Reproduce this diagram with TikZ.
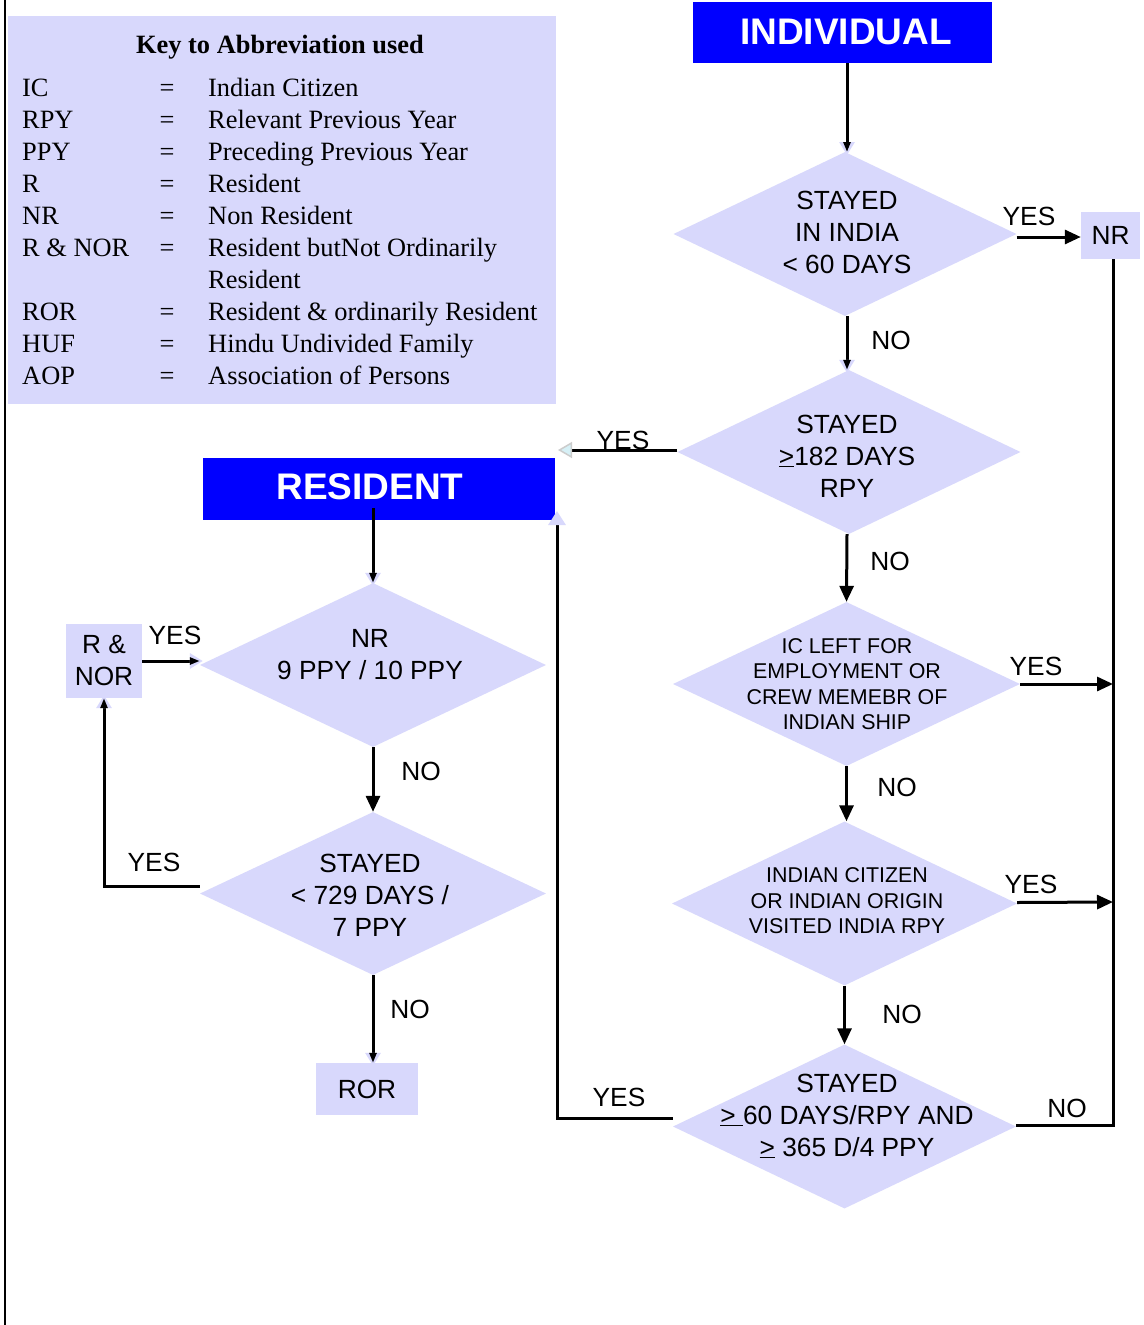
\documentclass[tikz,border=0pt]{standalone}
\usepackage{fontspec}
\setmainfont{Liberation Serif}
\setsansfont{Liberation Sans}
\usetikzlibrary{shapes.geometric,arrows.meta}
\definecolor{lav}{RGB}{216,216,252}
\definecolor{bluebox}{RGB}{0,0,255}
\definecolor{tipcyan}{RGB}{214,240,246}
\begin{document}
\begin{tikzpicture}[x=1pt,y=-1pt,
  dia/.style={diamond,fill=lav,draw=none,inner sep=0pt,minimum width=343pt,minimum height=164pt},
  dtext/.style={font=\sffamily\fontsize{26.3}{32}\selectfont,align=center,inner sep=0pt},
  stext/.style={font=\sffamily\fontsize{21.4}{25.5}\selectfont,align=center,inner sep=0pt},
  lbl/.style={font=\sffamily\fontsize{26.3}{30}\selectfont,inner sep=0pt},
  keyt/.style={font=\fontsize{26.4}{30}\selectfont,inner sep=0pt,anchor=base west},
  keyeq/.style={font=\fontsize{26.4}{30}\selectfont,inner sep=0pt,anchor=base},
  lavbox/.style={fill=lav,draw=none,inner sep=0pt,font=\sffamily\fontsize{26.3}{32}\selectfont,align=center},
  bluehead/.style={fill=bluebox,draw=none,inner sep=0pt,text=white,font=\sffamily\bfseries\fontsize{37}{40}\selectfont},
  conn/.style={line width=3pt},
  bigtip/.style={-{Triangle[length=16pt,width=14pt]}},
  smalltip/.style={-{Triangle[lav,length=13pt,width=15pt,sep=-13pt] Triangle[black,length=10pt,width=7pt]}},
]
\useasboundingbox (0,0) rectangle (1143,1325);
\fill[white] (0,0) rectangle (1143,1325);
\draw[line width=2pt] (5,0) -- (5,1325);

% key box
\node[fill=lav,inner sep=0pt,minimum width=548pt,minimum height=388pt] (key) at (282,210) {};
\node[font=\bfseries\fontsize{26.4}{30}\selectfont,inner sep=0pt,anchor=base] (ktitle) at (280,53) {Key to Abbreviation used};
\foreach \ab/\de/\yy [count=\i] in {IC/Indian Citizen/96,RPY/Relevant Previous Year/128,PPY/Preceding Previous Year/160,R/Resident/192,NR/Non Resident/224,R \& NOR/Resident butNot Ordinarily/256,ROR/Resident \& ordinarily Resident/320,HUF/Hindu Undivided Family/352,AOP/Association of Persons/384}{
  \node[keyt] (ka\i) at (22,\yy) {\ab};
  \node[keyeq] (ke\i) at (167,\yy) {=};
  \node[keyt] (kd\i) at (208,\yy) {\de};
}
\node[keyt] (kd0) at (208,288) {Resident};

% heads
\node[bluehead,minimum width=299pt,minimum height=61pt] (indiv) at (842.5,32.5) {};
\node[bluehead,inner sep=0pt] (indivt) at (846,32) {INDIVIDUAL};
\node[bluehead,minimum width=352pt,minimum height=62pt] (res) at (379,489) {};
\node[bluehead,inner sep=0pt] (rest) at (370,487) {RESIDENT};

% diamonds
\node[dia] (d1) at (845,234) {};
\node[dia] (d2) at (849,452) {};
\node[dia,minimum width=347pt] (d3) at (846.5,684) {};
\node[dia,minimum width=345pt] (d4) at (844.5,903.5) {};
\node[dia] (d5) at (844.5,1126.5) {};
\node[dia,minimum width=346pt] (dl1) at (373,665) {};
\node[dia,minimum width=346pt,minimum height=163pt] (dl2) at (373,893.5) {};

\node[dtext] (t1) at (847,232) {STAYED\\IN INDIA\\< 60 DAYS};
\node[dtext] (t2) at (847,456) {STAYED\\\underline{>}182 DAYS\\RPY};
\node[stext] (t3) at (847,684) {IC LEFT FOR\\EMPLOYMENT OR\\CREW MEMEBR OF\\INDIAN SHIP};
\node[stext] (t4) at (847,901) {INDIAN CITIZEN\\OR INDIAN ORIGIN\\VISITED INDIA RPY};
\node[dtext] (t5) at (847,1116) {STAYED\\\underline{> }60 DAYS/RPY AND\\\underline{>} 365 D/4 PPY};
\node[dtext] (tl1) at (370,655) {NR\\9 PPY / 10 PPY};
\node[dtext] (tl2) at (370,895) {STAYED\\< 729 DAYS /\\7 PPY};

% small boxes
\node[lavbox,minimum width=59pt,minimum height=47pt] (nr) at (1110.5,235.5) {NR};
\node[lavbox,minimum width=76pt,minimum height=74pt] (rnor) at (104,661) {R \&\\NOR};
\node[lavbox,minimum width=102pt,minimum height=52pt] (ror) at (367,1089) {ROR};

% coordinates
\coordinate (r2) at (558,450);
\coordinate (r3) at (1113,684);
\coordinate (r4) at (1113,902);
\coordinate (rtip) at (557,511);

% connectors
\draw[conn,smalltip] (indiv.south -| 847,0) -- (847,152);
\draw[conn,bigtip] ([yshift=-3pt]d1.east) -- ([yshift=-1.5pt]nr.west);
\draw[conn,smalltip] ([xshift=2pt]d1.south) -- ([xshift=2pt]d1.south |- d2.north);
\draw[conn,-{Triangle[length=14pt,width=16pt,fill=tipcyan,color=gray!40,line width=1.5pt]}] ([yshift=2pt]d2.west) -- (r2);
\draw[conn,bigtip] ([xshift=-2pt]d2.south) -- (d3.north);
\draw[conn,bigtip] (d3.east) -- (r3);
\draw[conn,bigtip] (d3.south) -- (d3.south |- d4.north);
\draw[conn,bigtip] ([yshift=1pt]d4.east) -- (r4);
\draw[conn,bigtip] (d4.south) -- (d5.north);
\draw[conn] ([yshift=1.5pt]d5.east) -| ([xshift=2.5pt]nr.south);
\draw[conn,-{Triangle[lav,length=14pt,width=17pt]}] ([yshift=8pt]d5.west) -| (rtip);
\draw[conn,smalltip] ([yshift=12pt]res.south -| dl1.north) -- (dl1.north);
\draw[conn,bigtip] (dl1.south) -- (dl2.north);
\draw[conn,smalltip] ([yshift=7pt]dl2.west) -| (rnor.south);
\draw[conn,smalltip] (rnor.east) -- (rnor.east -| dl1.west);
\draw[conn,smalltip] (dl2.south) -- (dl2.south |- ror.north);

% labels
\node[lbl] (y1) at (1029,216) {YES};
\node[lbl] (n1) at (891,340) {NO};
\node[lbl] (y2) at (623,440) {YES};
\node[lbl] (n2) at (890,561) {NO};
\node[lbl] (y3) at (1036,666) {YES};
\node[lbl] (n3) at (897,787) {NO};
\node[lbl] (y4) at (1031,884) {YES};
\node[lbl] (n4) at (902,1014) {NO};
\node[lbl] (n5) at (1067,1108) {NO};
\node[lbl] (y5) at (619,1097) {YES};
\node[lbl] (y6) at (175,635) {YES};
\node[lbl] (n6) at (421,771) {NO};
\node[lbl] (y7) at (154,862) {YES};
\node[lbl] (n7) at (410,1009) {NO};
\end{tikzpicture}
\end{document}
